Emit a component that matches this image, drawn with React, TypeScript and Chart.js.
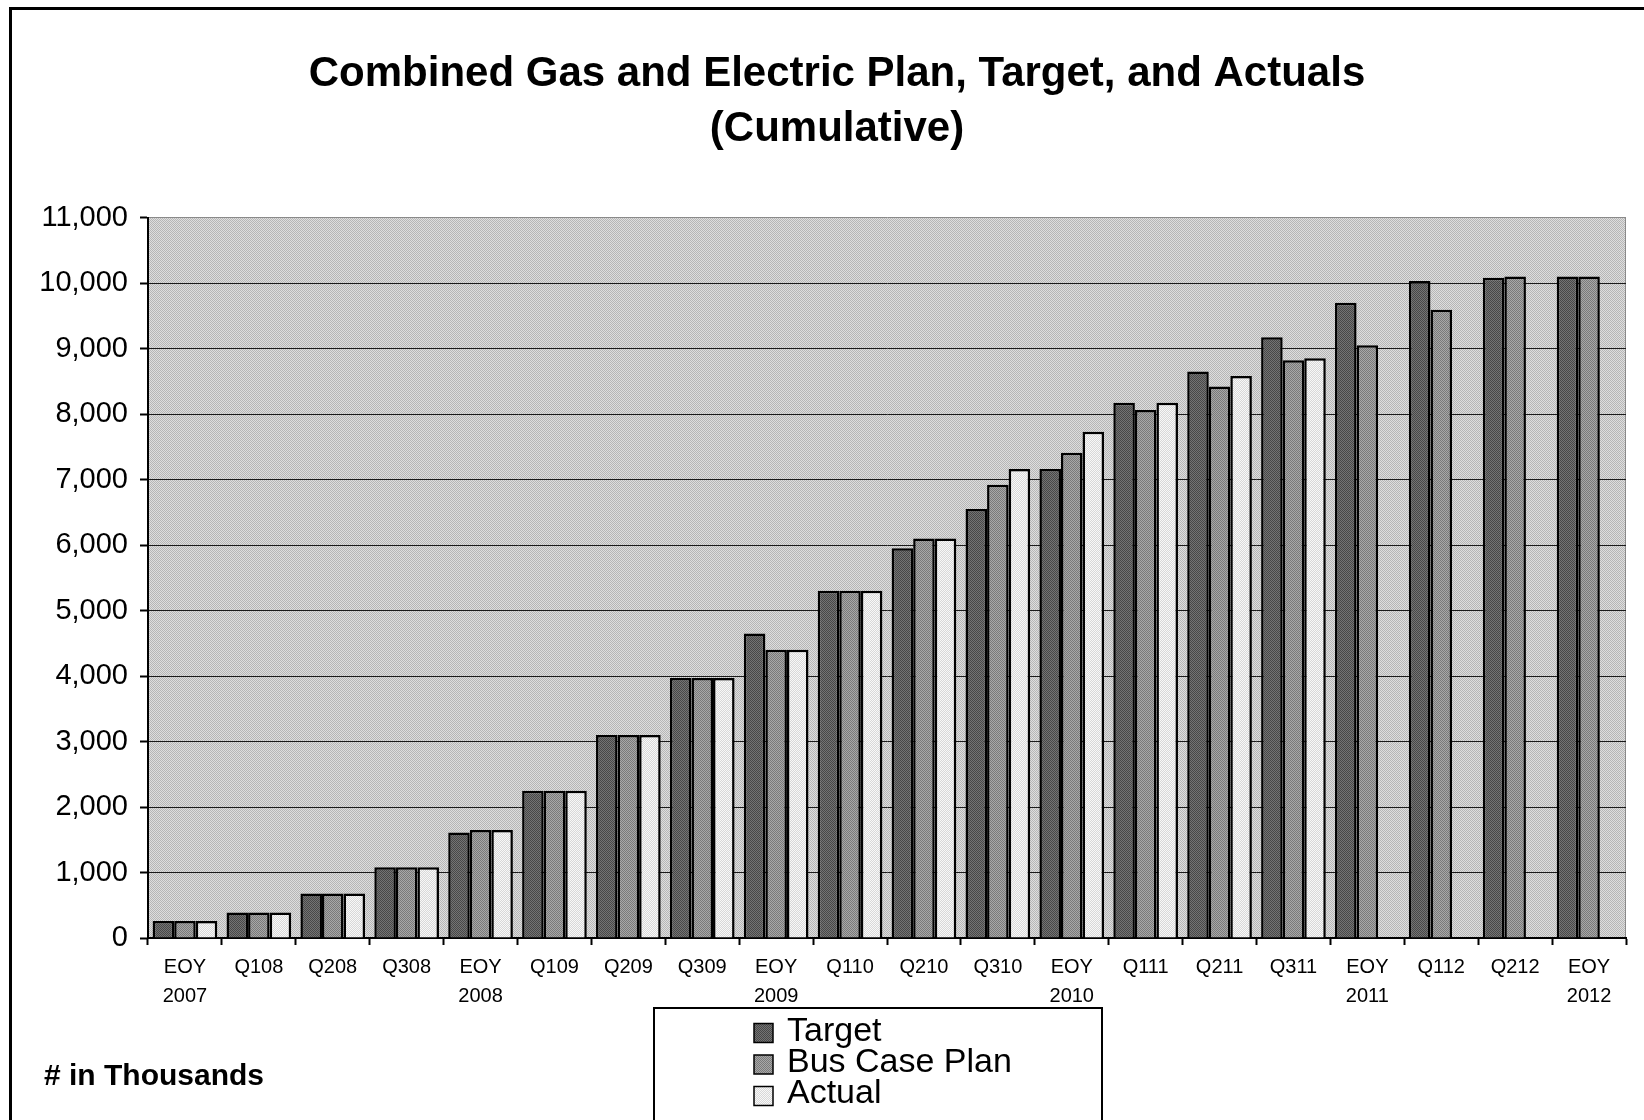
import React, { useEffect, useRef } from "react";
import { Chart, registerables } from "chart.js";

Chart.register(...registerables);

const FONT = "'Liberation Sans', Arial, Helvetica, sans-serif";

const titleLines = ["Combined Gas and Electric Plan, Target, and Actuals", "(Cumulative)"];
const unitNote = "# in Thousands";

const categories: (string | string[])[] = [
  ["EOY", "2007"], "Q108", "Q208", "Q308",
  ["EOY", "2008"], "Q109", "Q209", "Q309",
  ["EOY", "2009"], "Q110", "Q210", "Q310",
  ["EOY", "2010"], "Q111", "Q211", "Q311",
  ["EOY", "2011"], "Q112", "Q212", ["EOY", "2012"],
];

const seriesNames = ["Target", "Bus Case Plan", "Actual"];

const targetValues = [260, 390, 680, 1080, 1610, 2250, 3100, 3970, 4650, 5300, 5950, 6550, 7160, 8170, 8650, 9170, 9700, 10030, 10080, 10100];
const busCaseValues = [260, 390, 680, 1080, 1650, 2250, 3100, 3970, 4400, 5300, 6100, 6920, 7410, 8060, 8420, 8820, 9050, 9590, 10100, 10100];
const actualValues: (number | null)[] = [260, 390, 680, 1080, 1650, 2250, 3100, 3970, 4400, 5300, 6100, 7160, 7730, 8170, 8580, 8850, null, null, null, null];

const yMin = 0;
const yMax = 11000;
const yStep = 1000;

function makePattern(a: string, b: string): CanvasPattern | string {
  const c = document.createElement("canvas");
  c.width = 2;
  c.height = 2;
  const x = c.getContext("2d");
  if (!x) return a;
  x.fillStyle = a;
  x.fillRect(0, 0, 2, 2);
  x.fillStyle = b;
  x.fillRect(1, 0, 1, 1);
  x.fillRect(0, 1, 1, 1);
  return x.createPattern(c, "repeat") || a;
}

export default function App() {
  const canvasRef = useRef<HTMLCanvasElement | null>(null);

  useEffect(() => {
    document.body.style.overflow = "hidden";
    const canvas = canvasRef.current;
    if (!canvas) return;

    const plotBg = makePattern("#b6b6b6", "#dedede");
    const targetFill = makePattern("#484848", "#747474");
    const busFill = makePattern("#7a7a7a", "#a8a8a8");
    const actualFill = makePattern("#f8f8f8", "#d8d8d8");
    const fills = [targetFill, busFill, actualFill];

    const backgroundPlugin = {
      id: "bgPlugin",
      beforeDraw(chart: any) {
        const { ctx, chartArea } = chart;
        ctx.save();
        ctx.fillStyle = "#ffffff";
        ctx.fillRect(0, 0, chart.width, chart.height);
        ctx.fillStyle = plotBg;
        ctx.fillRect(chartArea.left, chartArea.top, chartArea.right - chartArea.left, chartArea.bottom - chartArea.top);
        ctx.strokeStyle = "#8a8a8a";
        ctx.lineWidth = 1;
        ctx.beginPath();
        ctx.moveTo(chartArea.right - 0.5, chartArea.top);
        ctx.lineTo(chartArea.right - 0.5, chartArea.bottom);
        ctx.stroke();
        ctx.restore();
      },
      afterDraw(chart: any) {
        const { ctx } = chart;
        ctx.save();
        // outer frame
        ctx.strokeStyle = "#000";
        ctx.lineWidth = 3;
        ctx.beginPath();
        ctx.moveTo(10.5, chart.height + 5);
        ctx.lineTo(10.5, 8.5);
        ctx.lineTo(chart.width + 5, 8.5);
        ctx.stroke();

        // title
        ctx.fillStyle = "#000";
        ctx.font = `bold 42px ${FONT}`;
        ctx.textBaseline = "middle";
        ctx.textAlign = "center";
        titleLines.forEach((t, i) => ctx.fillText(t, 837, 74 + i * 55));

        // unit note
        ctx.font = `bold 30px ${FONT}`;
        ctx.textAlign = "left";
        ctx.fillText(unitNote, 44, 1077);

        // legend box
        ctx.fillStyle = "#fff";
        ctx.fillRect(654, 1008, 448, 140);
        ctx.strokeStyle = "#000";
        ctx.lineWidth = 2;
        ctx.strokeRect(654, 1008, 448, 140);
        chart.data.datasets.forEach((ds: any, i: number) => {
          const sy = 1033 + i * 31.5;
          ctx.fillStyle = ds.backgroundColor;
          ctx.fillRect(754, sy - 9.5, 19, 19);
          ctx.lineWidth = 1.5;
          ctx.strokeStyle = "#000";
          ctx.strokeRect(754, sy - 9.5, 19, 19);
          ctx.fillStyle = "#000";
          ctx.font = `34px ${FONT}`;
          ctx.textBaseline = "middle";
          ctx.textAlign = "left";
          ctx.fillText(ds.label, 787, 1032 + i * 31);
        });
        ctx.restore();
      },
    };

    const chart = new Chart(canvas, {
      type: "bar",
      data: {
        labels: categories,
        datasets: [
          { label: seriesNames[0], data: targetValues, backgroundColor: fills[0] as any, borderColor: "#000", borderWidth: 2.5 },
          { label: seriesNames[1], data: busCaseValues, backgroundColor: fills[1] as any, borderColor: "#000", borderWidth: 2.5 },
          { label: seriesNames[2], data: actualValues, backgroundColor: fills[2] as any, borderColor: "#000", borderWidth: 2.5 },
        ],
      },
      options: {
        animation: false,
        responsive: false,
        maintainAspectRatio: false,
        devicePixelRatio: 1,
        layout: { padding: { left: 36, right: 18, top: 217.5, bottom: 0 } },
        datasets: { bar: { categoryPercentage: 0.875, barPercentage: 1.0 } },
        plugins: {
          legend: { display: false },
          tooltip: { enabled: false },
          title: { display: false },
        },
        scales: {
          x: {
            offset: true,
            afterFit(scale: any) {
              scale.height = 182;
            },
            grid: {
              display: true,
              offset: true,
              drawOnChartArea: false,
              drawTicks: true,
              tickLength: 7,
              tickColor: "#000",
              tickWidth: 2,
            },
            border: { display: true, color: "#000", width: 2 },
            ticks: {
              color: "#000",
              font: { family: FONT, size: 20, lineHeight: 1.45 },
              padding: 8,
              maxRotation: 0,
              minRotation: 0,
              autoSkip: false,
            },
          },
          y: {
            min: yMin,
            max: yMax,
            afterFit(scale: any) {
              scale.width = 112;
            },
            grid: {
              color: (c: any) => (c.tick && c.tick.value === yMax ? "#8a8a8a" : "#1a1a1a"),
              lineWidth: 1,
              drawTicks: true,
              tickLength: 8,
              tickColor: "#000",
              tickWidth: 2,
            },
            border: { display: true, color: "#000", width: 2 },
            ticks: {
              stepSize: yStep,
              color: "#000",
              padding: 12,
              font: { family: FONT, size: 29 },
              callback: (v: any) => Number(v).toLocaleString("en-US"),
            },
          },
        },
      },
      plugins: [backgroundPlugin],
    });

    return () => {
      chart.destroy();
    };
  }, []);

  return (
    <div style={{ position: "absolute", left: 0, top: 0, width: 1644, height: 1120, background: "#fff" }}>
      <canvas ref={canvasRef} width={1644} height={1120} style={{ display: "block", width: 1644, height: 1120 }} />
    </div>
  );
}
